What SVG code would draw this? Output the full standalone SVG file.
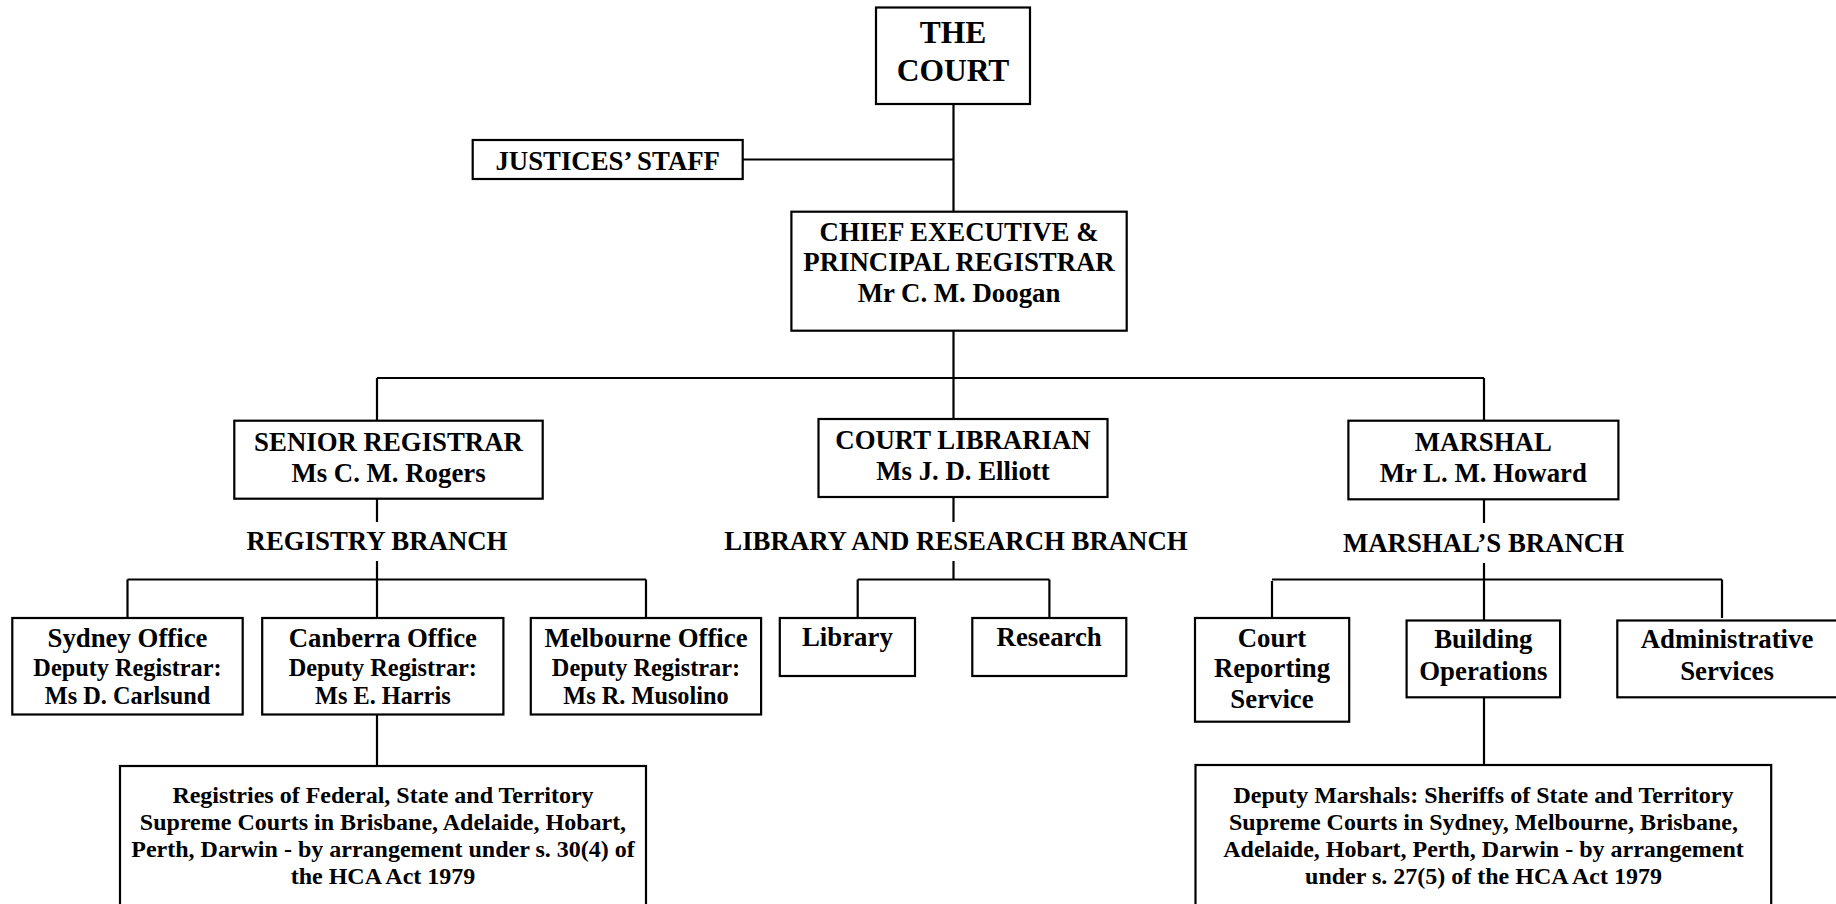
<svg xmlns="http://www.w3.org/2000/svg" width="1836" height="904" viewBox="0 0 1836 904">
<style>
.box{fill:#fff;stroke:#000;stroke-width:2.2}
.ln{stroke:#000;stroke-width:2.2;fill:none}
text{font-family:"Liberation Serif","Times New Roman",serif;font-weight:bold;fill:#000;text-anchor:middle}
.t{font-size:26.8px}
.s{font-size:24.3px}
.b{font-size:31.5px}
.n{font-size:24px}
</style>
<rect width="1836" height="904" fill="#fff"/>
<g id="connectors">
<path class="ln" d="M953.5,104 V212 M743,159.5 H953.5 M953.5,330 V378 M377,378 H1484 M377,378 V421 M953.5,378 V419 M1484,378 V421"/>
<path class="ln" d="M377,499 V522 M377,561 V618 M127.5,579.5 H646 M127.5,579.5 V618 M646,579.5 V618 M377,714 V766"/>
<path class="ln" d="M953.5,497 V522 M953.5,561 V579.5 M857.7,579.5 H1049.4 M857.7,579.5 V618 M1049.4,579.5 V618"/>
<path class="ln" d="M1484,499 V523 M1484,563 V620.5 M1272,579.5 H1722 M1272,581 V618 M1722,579.5 V618 M1484,697 V765"/>
</g>
<g id="court"><rect class="box" x="876" y="7.5" width="154" height="96.5"/><text class="b" x="953" y="43">THE</text><text class="b" x="953" y="81">COURT</text></g>
<g id="justices"><rect class="box" x="472.7" y="140" width="270" height="39"/><text class="t" x="607.7" y="170">JUSTICES’ STAFF</text></g>
<g id="chief"><rect class="box" x="791.4" y="211.7" width="335.3" height="119"/><text class="t" x="959" y="240.5">CHIEF EXECUTIVE &amp;</text><text class="t" x="959" y="271">PRINCIPAL REGISTRAR</text><text class="t" x="959" y="301.5">Mr C. M. Doogan</text></g>
<g id="senior"><rect class="box" x="234.3" y="420.7" width="308.4" height="78"/><text class="t" x="388.5" y="451">SENIOR REGISTRAR</text><text class="t" x="388.5" y="481.7">Ms C. M. Rogers</text></g>
<g id="registry-branch"><text class="t" x="377" y="549.5">REGISTRY BRANCH</text></g>
<g id="librarian"><rect class="box" x="818.5" y="419" width="289" height="78"/><text class="t" x="963" y="449">COURT LIBRARIAN</text><text class="t" x="963" y="479.5">Ms J. D. Elliott</text></g>
<g id="library-branch"><text class="t" x="956" y="549.5">LIBRARY AND RESEARCH BRANCH</text></g>
<g id="marshal"><rect class="box" x="1348.4" y="420.7" width="270" height="78.6"/><text class="t" x="1483.3" y="450.7">MARSHAL</text><text class="t" x="1483.3" y="481.7">Mr L. M. Howard</text></g>
<g id="marshal-branch"><text class="t" x="1483.5" y="551.5">MARSHAL’S BRANCH</text></g>
<g id="sydney"><rect class="box" x="12.3" y="618" width="230.4" height="96.5"/><text class="t" x="127.5" y="647.3">Sydney Office</text><text class="s" x="127.5" y="676">Deputy Registrar:</text><text class="s" x="127.5" y="703.5">Ms D. Carlsund</text></g>
<g id="canberra"><rect class="box" x="262.2" y="618" width="241.2" height="96.5"/><text class="t" x="382.8" y="647.3">Canberra Office</text><text class="s" x="382.8" y="676">Deputy Registrar:</text><text class="s" x="382.8" y="703.5">Ms E. Harris</text></g>
<g id="melbourne"><rect class="box" x="530.8" y="618" width="230.3" height="96.5"/><text class="t" x="646" y="647.3">Melbourne Office</text><text class="s" x="646" y="676">Deputy Registrar:</text><text class="s" x="646" y="703.5">Ms R. Musolino</text></g>
<g id="library"><rect class="box" x="779.8" y="618" width="135.2" height="58"/><text class="t" x="847.4" y="646">Library</text></g>
<g id="research"><rect class="box" x="972.3" y="618" width="154" height="58"/><text class="t" x="1049.2" y="646">Research</text></g>
<g id="court-reporting"><rect class="box" x="1195" y="618" width="154.2" height="103.7"/><text class="t" x="1272" y="646.7">Court</text><text class="t" x="1272" y="677.3">Reporting</text><text class="t" x="1272" y="707.7">Service</text></g>
<g id="building"><rect class="box" x="1406.6" y="620.5" width="153.5" height="76.8"/><text class="t" x="1483.3" y="648.3">Building</text><text class="t" x="1483.3" y="680">Operations</text></g>
<g id="admin"><rect class="box" x="1617.3" y="620.5" width="225" height="76.8"/><text class="t" x="1727" y="648.3">Administrative</text><text class="t" x="1727" y="680">Services</text></g>
<g id="registries"><rect class="box" x="120" y="766" width="526" height="160"/><text class="n" x="383" y="803">Registries of Federal, State and Territory</text><text class="n" x="383" y="830">Supreme Courts in Brisbane, Adelaide, Hobart,</text><text class="n" x="383" y="857">Perth, Darwin - by arrangement under s. 30(4) of</text><text class="n" x="383" y="884">the HCA Act 1979</text></g>
<g id="deputy-marshals"><rect class="box" x="1195.5" y="765" width="575.7" height="160"/><text class="n" x="1483.5" y="803">Deputy Marshals: Sheriffs of State and Territory</text><text class="n" x="1483.5" y="830">Supreme Courts in Sydney, Melbourne, Brisbane,</text><text class="n" x="1483.5" y="857">Adelaide, Hobart, Perth, Darwin - by arrangement</text><text class="n" x="1483.5" y="884">under s. 27(5) of the HCA Act 1979</text></g>
</svg>
